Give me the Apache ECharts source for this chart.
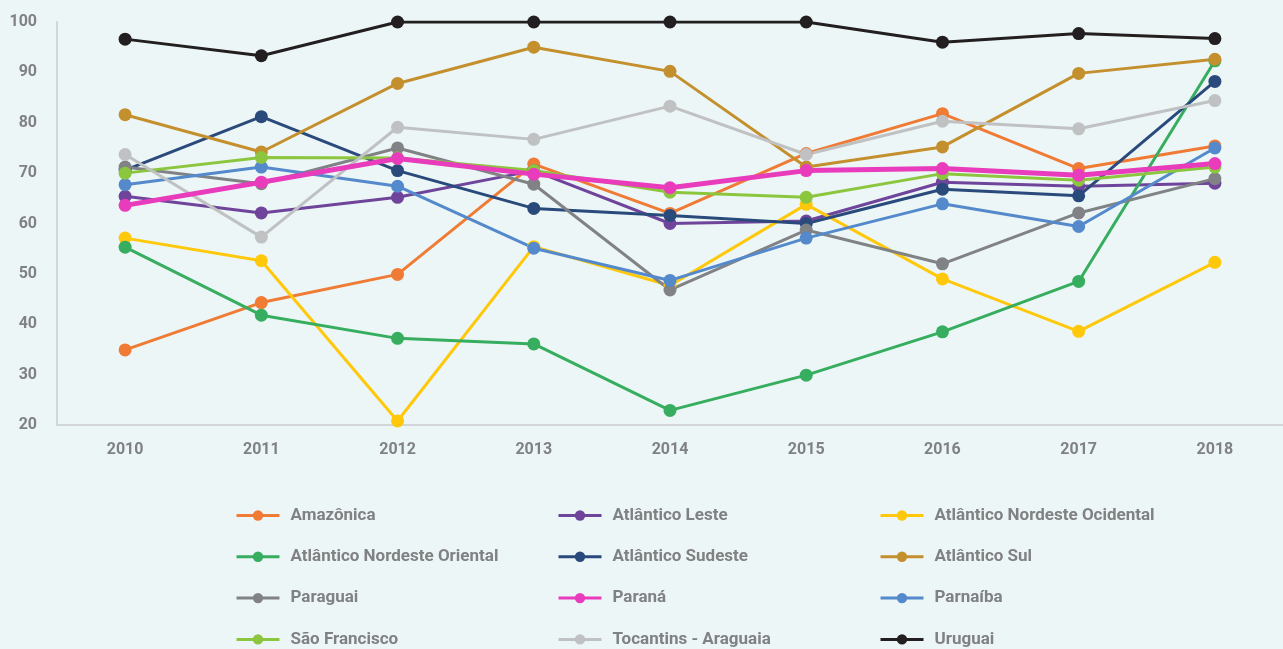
<!DOCTYPE html>
<html>
<head>
<meta charset="utf-8">
<script src="https://cdn.jsdelivr.net/npm/echarts@6/dist/echarts.min.js"></script>
<style>
  html, body { margin: 0; padding: 0; background: #ecf6f7; }
  #main { width: 1283px; height: 649px; }
</style>
</head>
<body>
<div id="main"></div>
<script>
var years = ['2010', '2011', '2012', '2013', '2014', '2015', '2016', '2017', '2018']

var amazonica = [34.9, 44.3, 49.9, 71.8, 62.0, 73.9, 81.8, 70.9, 75.4]
var atlLeste = [65.4, 62.1, 65.2, 70.5, 60.0, 60.5, 68.2, 67.4, 68.0]
var atlNeOcidental = [57.1, 52.6, 20.8, 55.4, 47.7, 63.8, 49.0, 38.6, 52.3]
var atlNeOriental = [55.3, 41.8, 37.2, 36.1, 22.9, 29.9, 38.5, 48.5, 92.3]
var atlSudeste = [70.6, 81.2, 70.5, 63.0, 61.6, 60.0, 66.8, 65.5, 88.2]
var atlSul = [81.6, 74.2, 87.8, 95.0, 90.2, 71.2, 75.2, 89.8, 92.6]
var paraguai = [71.2, 67.9, 75.0, 67.8, 46.8, 58.7, 52.0, 62.1, 68.9]
var parana = [63.6, 68.2, 72.9, 69.8, 67.1, 70.5, 70.9, 69.6, 71.9]
var parnaiba = [67.7, 71.2, 67.4, 55.1, 48.7, 57.1, 63.9, 59.4, 75.0]
var saoFrancisco = [70.0, 73.1, 73.0, 70.5, 66.2, 65.2, 69.9, 68.6, 71.2]
var tocantins = [73.7, 57.3, 79.1, 76.7, 83.3, 73.7, 80.3, 78.8, 84.4]
var uruguai = [96.6, 93.3, 100, 100, 100, 100, 96.0, 97.7, 96.7]

var yTicks = [20, 30, 40, 50, 60, 70, 80, 90, 100]

var legendCol1 = ['Amazônica', 'Atlântico Nordeste Oriental', 'Paraguai', 'São Francisco']
var legendCol2 = ['Atlântico Leste', 'Atlântico Sudeste', 'Paraná', 'Tocantins - Araguaia']
var legendCol3 = ['Atlântico Nordeste Ocidental', 'Atlântico Sul', 'Parnaíba', 'Uruguai']

var font = '"Liberation Sans Narrow", "Roboto", sans-serif'
var grey = '#808183'

var seriesDefs = [
  ['Amazônica', amazonica, '#ef7b35', 3],
  ['Atlântico Leste', atlLeste, '#6f449b', 3],
  ['Atlântico Nordeste Ocidental', atlNeOcidental, '#ffc80a', 3],
  ['Atlântico Nordeste Oriental', atlNeOriental, '#36ad5f', 3],
  ['Atlântico Sudeste', atlSudeste, '#2a4a7c', 3],
  ['Atlântico Sul', atlSul, '#c4902e', 3],
  ['Paraguai', paraguai, '#818285', 3],
  ['Parnaíba', parnaiba, '#5489cb', 3],
  ['São Francisco', saoFrancisco, '#8cc63e', 3],
  ['Tocantins - Araguaia', tocantins, '#c0c1c2', 3],
  ['Paraná', parana, '#e93cbd', 5],
  ['Uruguai', uruguai, '#231f20', 3]
]

var seriesList = seriesDefs.map(function (d) {
  return {
    name: d[0],
    type: 'line',
    data: d[1],
    symbol: 'circle',
    symbolSize: 13,
    color: d[2],
    lineStyle: { width: d[3], color: d[2] },
    itemStyle: { color: d[2], borderWidth: 0 }
  }
})

function makeLegend (items, left) {
  return {
    data: items,
    orient: 'vertical',
    left: left,
    top: 502,
    height: 180,
    itemWidth: 43,
    itemHeight: 13,
    itemGap: 24.3,
    lineStyle: { width: 3 },
    textStyle: {
      fontFamily: font,
      fontWeight: 'bold',
      fontSize: 17,
      color: grey,
      padding: [0, 0, 0, 6]
    }
  }
}

var myChart = echarts.init(document.getElementById('main'))
var option = {
  backgroundColor: '#ecf6f7',
  animation: false,
  grid: {
    left: 57,
    right: -5,
    top: 22,
    bottom: 224,
    containLabel: false
  },
  legend: [
    makeLegend(legendCol1, 230),
    makeLegend(legendCol2, 552),
    makeLegend(legendCol3, 874)
  ],
  xAxis: {
    type: 'category',
    data: years,
    boundaryGap: true,
    axisLine: { lineStyle: { color: '#d3d6d7', width: 2 } },
    axisTick: { show: false },
    axisLabel: {
      margin: 17,
      fontFamily: font,
      fontWeight: 'bold',
      fontSize: 16,
      color: grey
    },
    splitLine: { show: false }
  },
  yAxis: {
    type: 'value',
    min: yTicks[0],
    max: yTicks[yTicks.length - 1],
    interval: 10,
    axisLine: { show: true, lineStyle: { color: '#d3d6d7', width: 2 } },
    axisTick: { show: false },
    axisLabel: {
      margin: 20,
      fontFamily: font,
      fontWeight: 'bold',
      fontSize: 16,
      color: grey
    },
    splitLine: { show: false }
  },
  series: seriesList
}
myChart.setOption(option)
</script>
</body>
</html>
